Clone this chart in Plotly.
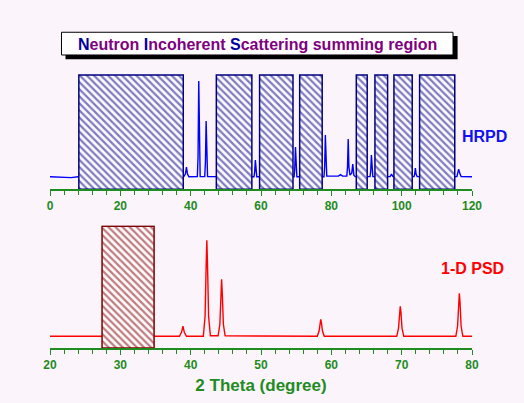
import plotly.graph_objects as go

# ---------------- data ----------------
# HRPD pattern (2theta 0-120), intensity in arbitrary units (baseline = 0)
hrpd_x = [0, 2, 4, 6, 8, 20, 38, 38.5, 38.8, 39.1, 39.5, 41.9, 42.1, 42.3, 42.5, 42.7,
          44.0, 44.2, 44.4, 44.6, 44.8, 58.0, 58.2, 58.4, 58.6, 58.8, 69.4, 69.6, 69.8,
          70.0, 70.2, 77.9, 78.1, 78.3, 78.5, 78.7, 82.0, 82.6, 83.2, 84.4, 84.6, 84.8,
          85.0, 85.3, 85.8, 86.1, 86.4, 86.8, 91.0, 91.2, 91.4, 91.6, 91.8, 96.7, 97.1,
          97.5, 103.5, 103.7, 103.9, 104.1, 104.4, 115.7, 116.0, 116.2, 116.5, 116.9, 120]
hrpd_y = [0.3, 0, -0.7, -0.5, 0.3, 0.3, 0.3, 3, 10, 3, 0.3, 0.5, 20, 96, 20, 0.5,
          0.5, 15, 56, 15, 0.5, 0.3, 5, 17, 5, 0.3, 0.3, 8, 30,
          8, 0.3, 0.3, 10, 42, 10, 1, 1, 2.5, 1, 1, 10, 38,
          10, 2, 4, 13, 2, 0.5, 0.5, 6, 22, 6, 0.5, 0.5, 3,
          0.5, 0.5, 3, 9, 3, 0.5, 0.5, 4, 8, 4, 0.5, 0.3]

# 1-D PSD pattern (2theta 20-80)
psd_x = [20, 27, 35, 38.4, 38.7, 38.9, 39.1, 39.4, 41.8, 42.05, 42.2, 42.3, 42.4, 42.55,
         42.8, 43.9, 44.15, 44.3, 44.4, 44.5, 44.65, 44.9, 58.0, 58.25, 58.4, 58.5, 58.6,
         58.75, 59.0, 69.3, 69.55, 69.7, 69.8, 69.9, 70.05, 70.3, 77.7, 77.95, 78.1, 78.2,
         78.3, 78.45, 78.7, 80]
psd_y = [0, 0, 0, 0, 4, 10, 4, 0, 0, 20, 70, 96, 70, 20,
         0.5, 0.5, 12, 42, 57, 42, 12, 0.5, 0, 5, 13, 17, 13,
         5, 0, 0, 8, 24, 30, 24, 8, 0, 0, 10, 34, 43,
         34, 10, 0, 0]

# summing regions
hrpd_box_start = [8.2, 47.3, 59.6, 71.0, 87.1, 92.4, 97.8, 105.1]
hrpd_box_end = [37.9, 57.4, 69.1, 77.4, 90.2, 96.0, 103.0, 115.1]
psd_box_start = [27.4]
psd_box_end = [34.8]
hrpd_box_top = 102
psd_box_top = 110

top_ticks = [0, 20, 40, 60, 80, 100, 120]
bottom_ticks = [20, 30, 40, 50, 60, 70, 80]

# ---------------- styling ----------------
BG = "#FBF4FB"
GREEN = "#1E8C1E"
FONT = "Liberation Sans, Arial, sans-serif"
TOP_RANGE = [-12, 103]
BOT_RANGE = [-11.7, 111]

fig = go.Figure()

fig.add_trace(go.Scatter(x=hrpd_x, y=hrpd_y, mode="lines", xaxis="x", yaxis="y",
                         line=dict(color="#0000FF", width=1.4), showlegend=False))
fig.add_trace(go.Scatter(x=psd_x, y=psd_y, mode="lines", xaxis="x2", yaxis="y2",
                         line=dict(color="#FF0000", width=1.4), showlegend=False))


def add_boxes(starts, ends, top, bottom, color, xa, ya):
    for s, e in zip(starts, ends):
        fig.add_trace(go.Scatter(
            x=[s, s, e, e, s], y=[bottom, top, top, bottom, bottom],
            mode="lines", fill="toself", xaxis=xa, yaxis=ya,
            fillcolor=BG,
            fillpattern=dict(shape="\\", fgcolor=color, bgcolor="#FDFAFD", size=5,
                             solidity=0.45),
            line=dict(color=color, width=1.5), showlegend=False, hoverinfo="skip"))


add_boxes(hrpd_box_start, hrpd_box_end, hrpd_box_top, TOP_RANGE[0], "#000080", "x", "y")
add_boxes(psd_box_start, psd_box_end, psd_box_top, BOT_RANGE[0], "#800000", "x2", "y2")

W, H = 524, 403
L, R = 49.5, 471.7
T, B = 74, 347.7


def px(x):
    return (x - L) / (R - L)


def py(y):
    return (B - y) / (B - T)


axis_common = dict(showline=True, linecolor=GREEN, linewidth=1.5, ticks="outside",
                   tickcolor=GREEN, ticklen=5, tickwidth=1.2, showgrid=False, zeroline=False,
                   tickfont=dict(family=FONT, size=12, color=GREEN, weight="bold"),
                   fixedrange=True)

fig.update_layout(
    width=W, height=H,
    margin=dict(l=L, r=W - R, t=T, b=H - B, pad=0),
    paper_bgcolor=BG, plot_bgcolor=BG,
    xaxis=dict(range=[0, 120], tickvals=top_ticks, anchor="y",
               minor=dict(dtick=4, ticks="outside", ticklen=4, tickcolor=GREEN, tickwidth=1),
               **axis_common),
    yaxis=dict(range=TOP_RANGE, domain=[1 - (TOP_RANGE[1] - TOP_RANGE[0]) / (B - T), 1],
               visible=False, fixedrange=True),
    xaxis2=dict(range=[20, 80], tickvals=bottom_ticks, anchor="y2",
                minor=dict(dtick=2, ticks="outside", ticklen=4, tickcolor=GREEN, tickwidth=1),
                title=dict(text="2 Theta (degree)", standoff=8,
                           font=dict(family=FONT, size=17, color=GREEN, weight="bold")),
                **axis_common),
    yaxis2=dict(range=BOT_RANGE, domain=[0, (BOT_RANGE[1] - BOT_RANGE[0]) / (B - T)],
                visible=False, fixedrange=True),
)

# title box with drop shadow
fig.add_shape(type="rect", xref="paper", yref="paper",
              x0=px(65), x1=px(457.3), y0=py(59.3), y1=py(36),
              fillcolor="black", line=dict(width=0))
fig.add_shape(type="rect", xref="paper", yref="paper",
              x0=px(61), x1=px(452.7), y0=py(55), y1=py(32.3),
              fillcolor="white", line=dict(color="black", width=1))

DB = "#0000A0"
title_html = (f"<span style='color:{DB}'>N</span>eutron "
              f"<span style='color:{DB}'>I</span>ncoherent "
              f"<span style='color:{DB}'>S</span>cattering summing region")
fig.add_annotation(xref="paper", yref="paper", x=px(257), y=py(44.5), text=title_html,
                   showarrow=False, xanchor="center", yanchor="middle",
                   font=dict(family=FONT, size=16, color="#800080", weight="bold"))

fig.add_annotation(xref="paper", yref="paper", x=px(459.3), y=py(136.7), text="HRPD",
                   showarrow=False, xanchor="left", yanchor="middle",
                   font=dict(family=FONT, size=16, color="#1010F0", weight="bold"))
fig.add_annotation(xref="paper", yref="paper", x=px(439), y=py(268), text="1-D PSD",
                   showarrow=False, xanchor="left", yanchor="middle",
                   font=dict(family=FONT, size=16, color="#FF0000", weight="bold"))

fig.write_html(
    "out.html",
    config={"displayModeBar": False},
    post_script=(f"document.body.style.margin='0px';"
                 f"document.body.style.background='{BG}';"
                 f"document.documentElement.style.background='{BG}';"),
)
